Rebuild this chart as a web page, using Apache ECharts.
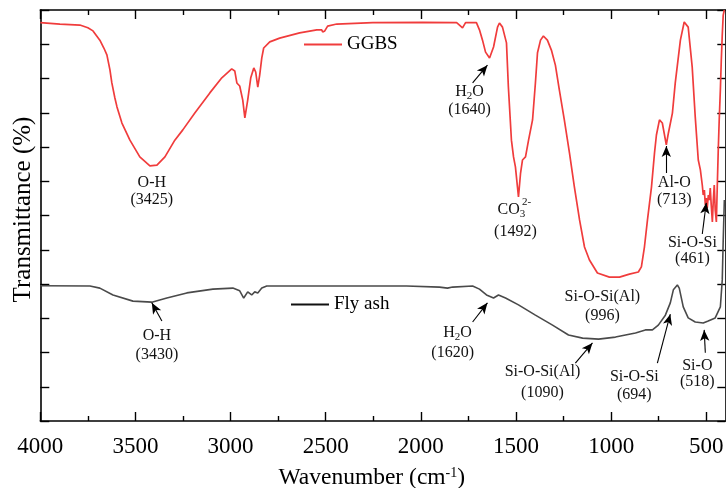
<!DOCTYPE html>
<html>
<head>
<meta charset="utf-8">
<script src="https://cdn.jsdelivr.net/npm/echarts@6/dist/echarts.min.js"></script>
<style>
html,body{margin:0;padding:0;background:#fff;}
#chart{width:726px;height:488px;}
</style>
</head>
<body>
<div id="chart"></div>
<script>
// ---- Data (wavenumber in cm^-1, transmittance in arbitrary units) ----
const ggbsWavenumber = [4000,3897,3792,3750,3723,3687,3666,3650,3634,3624,
 3608,3597,3571,3529,3477,3424,3387,3345,3293,3251,
 3188,3109,3046,2994,2978,2967,2952,2936,2925,2910,
 2894,2878,2868,2857,2847,2836,2826,2794,2742,2637,
 2547,2521,2516,2505,2490,2442,2253,1991,1812,1797,
 1781,1765,1708,1692,1676,1660,1639,1618,1597,1587,
 1571,1550,1540,1524,1513,1503,1487,1476,1466,1450,
 1434,1413,1398,1387,1371,1356,1335,1314,1293,1272,
 1246,1219,1193,1166,1140,1114,1072,1009,956,904,
 857,841,825,809,788,772,762,746,731,710,
 699,678,663,636,616,595,574,558,542,531,
 521,516,510,505,500,495,489,484,479,474,
 468,463,458,453,447,442,437,432,426,421,
 416,411,405];
const ggbsTransmittance = [116.3,115.9,115.6,114.8,113.9,111.2,108.9,106.9,102.5,98.7,
 94.3,91.7,87.0,82.0,77.1,74.5,74.7,77.1,82.0,85.0,
 89.9,95.8,100.2,102.8,102.2,98.7,97.8,93.7,88.5,93.7,
 100.2,103.1,101.9,97.5,101.0,106.0,108.9,110.7,111.8,113.3,
 114.2,114.2,113.6,113.9,115.3,115.9,116.3,116.4,116.3,115.6,
 114.8,116.3,116.3,114.2,111.2,107.7,106.0,109.2,115.0,116.2,
 115.0,110.4,97.5,82.0,77.1,74.2,65.4,72.4,76.2,77.1,
 82.0,87.9,98.7,107.5,111.2,112.4,111.2,108.3,103.9,96.6,
 87.9,78.3,68.3,58.7,50.8,47.0,43.2,42.0,42.0,42.9,
 43.5,45.0,50.8,58.7,68.3,78.3,83.5,87.9,87.0,80.6,
 84.1,89.9,98.7,111.2,116.5,115.0,103.4,88.8,76.2,73.3,
 68.9,66.0,67.4,63.1,65.1,62.2,66.0,64.5,68.0,63.1,
 58.1,64.5,68.9,61.6,58.1,68.9,79.1,87.9,96.6,105.4,
 112.7,118.5,120];

const flyAshWavenumber = [4000,3739,3687,3618,3513,3414,3335,3230,3093,2988,
 2952,2931,2910,2889,2873,2857,2836,2810,2600,2075,
 1902,1860,1833,1728,1692,1655,1618,1592,1555,1487,
 1398,1308,1224,1150,1066,977,872,820,783,752,
 715,689,673,652,642,621,595,558,516,490,
 453,426,416,411,405];
const flyAshTransmittance = [39.5,39.4,38.8,36.8,35.0,34.7,35.9,37.4,38.5,38.8,
 38.0,35.9,37.7,36.8,37.7,37.4,38.8,39.4,39.4,39.4,
 39.1,38.8,39.1,39.4,38.5,36.8,35.9,36.8,35.9,33.9,
 30.9,28.0,25.1,24.2,23.9,24.5,25.7,26.6,26.6,28.0,
 30.9,34.5,38.3,39.7,38.8,33.3,30.1,28.9,28.6,29.2,
 30.1,33.3,41.2,52.8,64.5];

const majorTicks = [500,1000,1500,2000,2500,3000,3500,4000];
const minorTicks = [750,1250,1750,2250,2750,3250,3750];

// annotation text: [text, wavenumber, transmittance]
const annotations = [
 ['O-H', 3414, 69.5], ['(3425)', 3414, 64.5],
 ['O-H', 3387, 24.8], ['(3430)', 3387, 19.3],
 ['H{sub|2}O', 1744, 96.1], ['(1640)', 1744, 90.8],
 ['CO{sub|3}', 1524, 61.6], ['{sup|2-}', 1445, 63.7], ['(1492)', 1503, 55.2],
 ['Al-O', 668, 69.5], ['(713)', 668, 64.5],
 ['Si-O-Si', 573, 52.0], ['(461)', 573, 47.3],
 ['Si-O-Si(Al)', 1046, 36.2], ['(996)', 1046, 30.7],
 ['H{sub|2}O', 1807, 25.7], ['(1620)', 1833, 19.9],
 ['Si-O-Si(Al)', 1361, 14.3], ['(1090)', 1361, 8.2],
 ['Si-O-Si', 878, 12.8], ['(694)', 878, 7.6],
 ['Si-O', 547, 16.1], ['(518)', 547, 11.4]
];
// arrows: [fromX, fromY, toX, toY]
const arrows = [
 [3361, 29.2, 3414, 34.5],
 [1728, 98.7, 1650, 103.9],
 [710, 72.4, 710, 80.3],
 [521, 54.6, 500, 63.7],
 [1728, 28.9, 1650, 34.5],
 [1188, 16.9, 1098, 22.8],
 [757, 16.9, 689, 31.2],
 [505, 19.9, 511, 26.6]
];

// ---- Chart ----
const FONT = "'Liberation Serif', 'Times New Roman', serif";
const zip = (xs, ys) => xs.map((x, i) => [x, ys[i]]);
const richStyles = {
  sub: {fontSize: 11, fontFamily: FONT, color: '#111', lineHeight: 12, verticalAlign: 'bottom'},
  sup: {fontSize: 11, fontFamily: FONT, color: '#111', lineHeight: 12, verticalAlign: 'top'}
};

const chart = echarts.init(document.getElementById('chart'), null, {renderer: 'canvas'});

const axisLine = {show: true, lineStyle: {color: '#000', width: 1.6}};
function xAxisDef(position, ticks, len, showLine, showLabels) {
  return {
    type: 'value', min: 400, max: 4000, inverse: true, position: position,
    axisLine: showLine ? axisLine : {show: false},
    axisTick: {show: true, inside: true, length: len, customValues: ticks,
               lineStyle: {color: '#000', width: 1.4}},
    axisLabel: showLabels ? {show: true, customValues: majorTicks, fontSize: 23,
               fontFamily: FONT, color: '#000', margin: 14,
               formatter: v => String(v)} : {show: false},
    splitLine: {show: false}
  };
}
const xMain = xAxisDef('bottom', majorTicks, 9, true, true);
xMain.name = 'Wavenumber (cm{sup|-1})';
xMain.nameLocation = 'middle';
xMain.nameGap = 45;
xMain.nameTextStyle = {fontSize: 23.5, fontFamily: FONT, color: '#000', padding: [0, 22, 0, 0],
  rich: {sup: {fontSize: 14, fontFamily: FONT, color: '#000', lineHeight: 14, verticalAlign: 'top'}}};

function yAxisDef(position, withName) {
  const a = {
    type: 'value', min: 0, max: 120, interval: 10, position: position,
    axisLine: axisLine,
    axisTick: {show: true, inside: true, length: position === 'left' ? 9 : 8,
               lineStyle: {color: '#000', width: 1.4}},
    axisLabel: {show: false},
    splitLine: {show: false}
  };
  if (withName) {
    a.name = 'Transmittance (%)';
    a.nameLocation = 'middle';
    a.nameGap = 4;
    a.nameTextStyle = {fontSize: 25, fontFamily: FONT, color: '#000', padding: [0, 0, 0, 12]};
  }
  return a;
}

const option = {
  animation: false,
  backgroundColor: '#fff',
  grid: {left: 40.3, right: 0.7, top: 10, bottom: 67, containLabel: false, outerBoundsMode: 'none'},
  legend: [
    {data: [{name: 'GGBS'}], left: 304, top: 35, padding: 0, icon: 'rect', itemWidth: 38, itemHeight: 2,
     itemGap: 6, textStyle: {fontSize: 19, fontFamily: FONT, color: '#000'}, selectedMode: false},
    {data: [{name: 'Fly ash', itemStyle: {color: '#111'}}], left: 291, top: 295, padding: 0, icon: 'rect',
     itemWidth: 38, itemHeight: 2, textStyle: {fontSize: 19, fontFamily: FONT, color: '#000'}, selectedMode: false}
  ],
  xAxis: [
    xMain,
    xAxisDef('bottom', minorTicks, 5, false, false),
    xAxisDef('top', majorTicks, 9, true, false),
    xAxisDef('top', minorTicks, 5, false, false)
  ],
  yAxis: [yAxisDef('left', true), yAxisDef('right', false)],
  series: [
    {
      name: 'GGBS', type: 'line', xAxisIndex: 0, yAxisIndex: 0,
      data: zip(ggbsWavenumber, ggbsTransmittance),
      showSymbol: false, symbol: 'none', smooth: false,
      lineStyle: {color: '#f03c3c', width: 1.7}, itemStyle: {color: '#f03c3c'},
      emphasis: {disabled: true},
      markPoint: {
        silent: true, symbol: 'circle', symbolSize: 0,
        data: annotations.map(a => ({
          coord: [a[1], a[2]],
          label: {show: true, position: 'inside', formatter: () => a[0],
                  fontSize: 16, fontFamily: FONT, color: '#111', lineHeight: 20,
                  align: 'center', verticalAlign: 'middle', rich: richStyles}
        }))
      },
      markLine: {
        silent: true, symbol: ['none', 'arrow'], symbolSize: [7, 11],
        lineStyle: {color: '#000', width: 1.1, type: 'solid'},
        itemStyle: {color: '#000'},
        label: {show: false},
        emphasis: {disabled: true},
        data: arrows.map(r => [{coord: [r[0], r[1]]}, {coord: [r[2], r[3]]}])
      }
    },
    {
      name: 'Fly ash', type: 'line', xAxisIndex: 0, yAxisIndex: 0,
      data: zip(flyAshWavenumber, flyAshTransmittance),
      showSymbol: false, symbol: 'none', smooth: false,
      lineStyle: {color: '#4a4a4a', width: 1.6}, itemStyle: {color: '#4a4a4a'},
      emphasis: {disabled: true}
    }
  ]
};
chart.setOption(option);
</script>
</body>
</html>
